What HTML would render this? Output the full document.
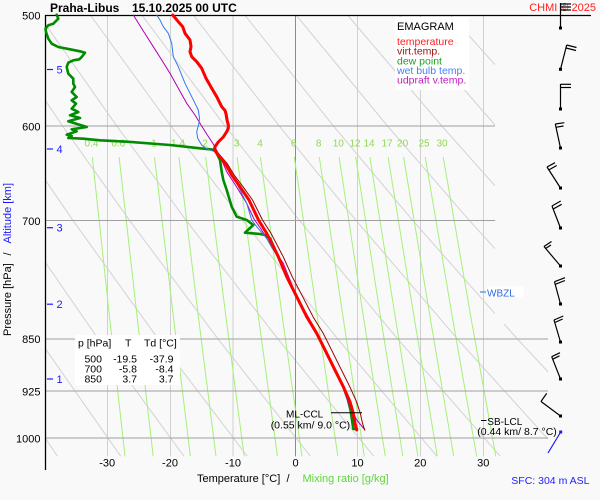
<!DOCTYPE html>
<html><head><meta charset="utf-8"><style>
html,body{margin:0;padding:0;background:#f9f9f9}
svg{display:block;font-family:"Liberation Sans",Arial,sans-serif}
</style></head><body>
<svg width="600" height="500" viewBox="0 0 600 500" xmlns="http://www.w3.org/2000/svg">
<rect x="0" y="0" width="600" height="500" fill="#f9f9f9"/>
<defs>
<clipPath id="c"><rect x="45" y="15" width="450" height="310"/><rect x="45" y="324" width="503" height="132.4"/></clipPath>
</defs>
<g clip-path="url(#c)" fill="none">
<!-- dry adiabats -->
<g stroke="#d2d2d2" stroke-width="1">
<polyline points="-21.7,338.6 57.5,456.3"/>
<polyline points="-40.4,220.2 38.2,338.6 120.8,456.3"/>
<polyline points="-45.7,126.2 16.2,220.2 98,338.6 184,456.3"/>
<polyline points="8.5,126.2 72.8,220.2 157.9,338.6 247.3,456.3"/>
<polyline points="-12.5,15 62.7,126.2 129.4,220.2 217.7,338.6 310.5,456.3"/>
<polyline points="38.9,15 116.9,126.2 186,220.2 277.6,338.6 373.8,456.3"/>
<polyline points="90.3,15 171,126.2 242.6,220.2 337.4,338.6 437,456.3"/>
<polyline points="141.8,15 225.2,126.2 299.3,220.2 397.3,338.6 500.3,456.3"/>
<polyline points="193.2,15 279.4,126.2 355.9,220.2 457.1,338.6 563.5,456.3"/>
<polyline points="244.7,15 333.6,126.2 412.5,220.2 517,338.6 626.7,456.3"/>
<polyline points="296.1,15 387.7,126.2 469.1,220.2 576.8,338.6"/>
<polyline points="347.5,15 442,126.2 525.7,220.2"/>
<polyline points="399,15 496.1,126.2"/>
<polyline points="450.4,15 550.3,126.2"/>
</g>
<!-- isotherms -->
<g stroke="#d0d0d0" stroke-width="1">
<line x1="107.5" y1="15" x2="107.5" y2="456.5"/>
<line x1="170.5" y1="15" x2="170.5" y2="456.5"/>
<line x1="233" y1="15" x2="233" y2="456.5"/>
<line x1="357.5" y1="15" x2="357.5" y2="456.5"/>
<line x1="420.5" y1="15" x2="420.5" y2="456.5"/>
<line x1="483.5" y1="15" x2="483.5" y2="456.5"/>
</g>
<line x1="295.5" y1="15" x2="295.5" y2="456.5" stroke="#8c8c8c" stroke-width="1"/>
<!-- mixing ratio lines -->
<g stroke="#a6f07a" stroke-width="1">
<polyline points="92.3,156.9 109.5,316.7 125,456.4"/>
<polyline points="119.1,156.9 137.1,316.7 153.2,456.4"/>
<polyline points="154.5,156.9 173.4,316.7 190.4,456.4"/>
<polyline points="178.9,156.9 198.4,316.7 216,456.4"/>
<polyline points="205.6,156.9 225.9,316.7 244.2,456.4"/>
<polyline points="237.1,156.9 258.4,316.7 277.5,456.4"/>
<polyline points="260.4,156.9 282.3,316.7 302,456.4"/>
<polyline points="294.3,156.9 317.3,316.7 337.9,456.4"/>
<polyline points="319.3,156.9 343,316.7 364.3,456.4"/>
<polyline points="339.1,156.9 363.4,316.7 385.3,456.4"/>
<polyline points="355.7,156.9 380.5,316.7 402.9,456.4"/>
<polyline points="369.9,156.9 395.2,316.7 417.9,456.4"/>
<polyline points="388.1,156.9 414,316.7 437.3,456.4"/>
<polyline points="403.6,156.9 430,316.7 453.7,456.4"/>
<polyline points="425.2,156.9 452.3,316.7 476.7,456.4"/>
<polyline points="443.2,156.9 470.8,316.7 495.8,456.4"/>
</g>
</g>
<!-- isobars -->
<g stroke="#a0a0a0" stroke-width="1">
<line x1="45" y1="126" x2="495" y2="126"/>
<line x1="45" y1="220.5" x2="495" y2="220.5"/>
<line x1="45" y1="339" x2="548" y2="339"/>
<line x1="45" y1="391" x2="548" y2="391"/>
<line x1="45" y1="438" x2="548" y2="438"/>
</g>
<!-- axes -->
<line x1="45" y1="15.5" x2="591" y2="15.5" stroke="#000" stroke-width="1.3"/>
<line x1="45.5" y1="15" x2="45.5" y2="470" stroke="#000" stroke-width="1.3"/>
<!-- mixing ratio labels -->
<g font-size="10" fill="#8fd853" text-anchor="middle">
<text x="91.5" y="146.5">0.4</text><text x="118.3" y="146.5">0.6</text><text x="154" y="146.5">1</text><text x="178" y="146.5">1.4</text>
<text x="205" y="146.5">2</text><text x="236.6" y="146.5">3</text><text x="260" y="146.5">4</text><text x="293.6" y="146.5">6</text>
<text x="318.6" y="146.5">8</text><text x="338.3" y="146.5">10</text><text x="355" y="146.5">12</text><text x="369" y="146.5">14</text>
<text x="387" y="146.5">17</text><text x="402.6" y="146.5">20</text><text x="424" y="146.5">25</text><text x="442" y="146.5">30</text>
</g>
<!-- profiles -->
<g fill="none" stroke-linejoin="round" stroke-linecap="round">
<polyline stroke="#008c00" stroke-width="2.6" points="56.7,14.7 58.3,18.7 53.3,23.7 48.3,25.3 45.5,28.7 46,32 48.3,38.7 51.7,43.7 58.3,47 70,49.3 80,51.3 85,52.7 81.7,57 79.3,59.3 73.3,60.3 68.3,62.7 66.7,67 68.3,73.7 73.3,78.7 73.3,83.7 75,87 71.7,92 76.7,97 71.7,100.3 76,103.7 71.7,108.7 78.3,112 70,115.3 80,118 68.3,121.3 86.7,127 71.7,129.3 76.7,131.3 66.7,134.7 71.7,136 68.3,138 83.3,138.7 100,140.3 126.7,141.7 170,145 200,148.3 210,149.3 215,150 220,160 221.7,171.7 223.3,180 226.7,190 231.7,206.7 236.7,216.7 246.7,220 253.3,225 245,232.7 260,234 265,235 270,238.3 278.3,256.7 286.7,276.7 296.7,296.7 306.7,316.7 316.7,333.3 326.7,353.3 333.3,366.7 343.3,386.7 348,400 350.5,410 352,420 353.3,429 357,429"/>
<polyline stroke="#b000b0" stroke-width="1" points="133.3,15 143.3,31 153.3,46.7 161.7,60 170,73.3 178.3,88.3 186.7,103.3 195,115 201,125 207,134.5 213.3,144 218.3,153.3 222.5,162 226.7,171.7 236,186 246.7,203.3 254,219 261,229 268,240.5 275,251 283.3,263.3 290,280 296.7,296.7 310,320 318,336 326.7,353.3 340,380 345,393 350,406.7 356.7,420 365,430"/>
<polyline stroke="#3377ee" stroke-width="1" points="156.7,15 160,20 163.3,26.7 168.3,33.3 171.7,43.3 173.3,56.7 178.3,66.7 185,83.3 190,93.3 195,103.3 198.3,110 199.5,118 199,123.3 196.7,131.7 197.7,138.3 201.7,145 206,148.5 210,150 215,151.7 220,157 228,168 236.7,183.3 246.7,203.3 251.7,220 256.7,226.7 266.7,238.3 272,248 278,256.7 286.2,276.7 296.2,296.7 306.2,316.7 316.2,333.3 326.2,353.3 332.8,366.7 342.8,386.7 349.5,401.7 352.8,413.3 354.5,423.3 356.2,430"/>
<polyline stroke="#990000" stroke-width="1" points="173.5,15 179,21.7 183.5,26.7 185.8,33.3 190.8,40 191.8,46.7 190.8,51.7 192.5,56.7 197.5,61.7 202.5,68.3 206.8,78.3 212.5,88.3 217.5,96.7 222.5,106.7 226,110.5 227,114 228,120 229.2,125 229.2,128.3 227.5,131.7 224.2,137 219.2,142 216,146.7 215.5,150 219.8,155 227,163.3 234.2,175 243,186.7 252.5,200 262.5,220 271,233.3 276.2,243.3 283.2,256.7 292.2,276.7 302.7,296.7 313,316.7 323.2,333.3 333.2,353.3 339.8,366.7 349.8,386.7 356.5,401.7 360.3,413.3 362.5,423.3 364.7,430"/>
<polyline stroke="#ff0000" stroke-width="3" points="172.7,15 178.3,21.7 182.7,26.7 185,33.3 190,40 191,46.7 190,51.7 191.7,56.7 196.7,61.7 201.7,68.3 206,78.3 211.7,88.3 216.7,96.7 221.7,106.7 225,110.5 226,114 227,120 228.3,125 228.3,128.3 226.7,131.7 223.3,137 218.3,142 215,146.7 214.3,150 218.3,155 225,163.3 231.7,175 240,186.7 249,200 258.5,220 266.7,233.3 271.7,243.3 278.3,256.7 286.7,276.7 296.7,296.7 306.7,316.7 316.7,333.3 326.7,353.3 333.3,366.7 343.3,386.7 350,401.7 353.3,413.3 355,423.3 356.7,430"/>
</g>
<!-- legend box -->
<rect x="395" y="17" width="74" height="73" fill="#ffffff"/>
<text x="397" y="30" font-size="11" fill="#000">EMAGRAM</text>
<g font-size="10.5">
<text x="397" y="45" fill="#ff2020">temperature</text>
<text x="397" y="54.7" fill="#a01010">virt.temp.</text>
<text x="397" y="64.3" fill="#20a020">dew point</text>
<text x="397" y="74" fill="#4080ff">wet bulb temp.</text>
<text x="397" y="83.7" fill="#c020c0">udpraft v.temp.</text>
</g>
<!-- table -->
<rect x="75" y="335" width="105" height="50" fill="#ffffff"/>
<g font-size="10.5" fill="#000">
<text x="78" y="346.5">p [hPa]</text><text x="125" y="346.5">T</text><text x="144" y="346.5">Td [°C]</text>
<g text-anchor="end">
<text x="102" y="362.3">500</text><text x="137" y="362.3">-19.5</text><text x="173.5" y="362.3">-37.9</text>
<text x="102" y="372.3">700</text><text x="137" y="372.3">-5.8</text><text x="173.5" y="372.3">-8.4</text>
<text x="102" y="382.3">850</text><text x="137" y="382.3">3.7</text><text x="173.5" y="382.3">3.7</text>
</g>
</g>
<!-- title -->
<text x="50" y="12" font-size="12" font-weight="bold" fill="#000">Praha-Libus</text>
<text x="132" y="12" font-size="12" font-weight="bold" fill="#000">15.10.2025 00 UTC</text>
<text x="596" y="11" font-size="11" fill="#ff2020" text-anchor="end">CHMI © 2025</text>
<!-- pressure labels -->
<g font-size="11" fill="#000" text-anchor="end">
<text x="40.5" y="19.5">500</text><text x="40.5" y="130.5">600</text><text x="40.5" y="225">700</text>
<text x="40.5" y="343">850</text><text x="40.5" y="395.3">925</text><text x="40.5" y="442.5">1000</text>
</g>
<!-- altitude labels -->
<g stroke="#1a1aff" stroke-width="1.2">
<line x1="47" y1="69.5" x2="53" y2="69.5"/><line x1="47" y1="149" x2="53" y2="149"/><line x1="47" y1="227.7" x2="53" y2="227.7"/>
<line x1="47" y1="304.2" x2="53" y2="304.2"/><line x1="47" y1="379" x2="53" y2="379"/>
</g>
<g font-size="11" fill="#1a1aff">
<text x="56.5" y="73.5">5</text><text x="56.5" y="153">4</text><text x="56.5" y="231.7">3</text><text x="56.5" y="308.2">2</text><text x="56.5" y="383">1</text>
</g>
<!-- axis titles -->
<text transform="translate(11,336) rotate(-90)" font-size="11" fill="#000">Pressure [hPa]</text>
<text transform="translate(11,255.5) rotate(-90)" font-size="11" fill="#000">/</text>
<text transform="translate(11,243.5) rotate(-90)" font-size="11" fill="#1a1aff">Altitude [km]</text>
<g font-size="11" fill="#000" text-anchor="middle">
<text x="107.2" y="466.5">-30</text><text x="170" y="466.5">-20</text><text x="233" y="466.5">-10</text>
<text x="295.5" y="466.5">0</text><text x="357.5" y="466.5">10</text><text x="420.3" y="466.5">20</text><text x="483.3" y="466.5">30</text>
</g>
<text x="197" y="482" font-size="11" fill="#000">Temperature [°C]</text>
<text x="286.5" y="482" font-size="11" fill="#000">/</text>
<text x="302.5" y="482" font-size="11" fill="#5cd83c">Mixing ratio [g/kg]</text>
<text x="589.5" y="484" font-size="10.5" fill="#2020ff" text-anchor="end">SFC: 304 m ASL</text>
<!-- annotations -->
<line x1="331" y1="412.7" x2="362" y2="412.7" stroke="#000" stroke-width="1"/>
<text x="286" y="417.5" font-size="10" fill="#000">ML-CCL</text>
<text x="270.7" y="428.5" font-size="10.5" fill="#000">(0.55 km/ 9.0 °C)</text>
<line x1="481" y1="420.5" x2="486.5" y2="420.5" stroke="#000" stroke-width="1"/>
<text x="487.3" y="425" font-size="10" fill="#000">SB-LCL</text>
<text x="477.3" y="435" font-size="10.5" fill="#000">(0.44 km/ 8.7 °C)</text>
<rect x="486.5" y="286.5" width="37" height="10.5" fill="#ffffff"/>
<line x1="480" y1="292" x2="486" y2="292" stroke="#2d6ae0" stroke-width="1"/>
<text x="487" y="296.3" font-size="10" fill="#2d6ae0">WBZL</text>
<!-- wind barbs -->
<g stroke="#000" stroke-width="1.2" fill="none">
<line x1="560.5" y1="28" x2="560.5" y2="3"/>
<line x1="560.5" y1="4" x2="571" y2="4"/><line x1="560.5" y1="7" x2="571" y2="7"/><line x1="560.5" y1="10" x2="571" y2="10"/>
<line x1="560.5" y1="69.3" x2="566.7" y2="45"/>
<line x1="566.7" y1="45" x2="576.5" y2="47.5"/><line x1="566" y1="48" x2="576" y2="50.5"/>
<line x1="560.5" y1="109" x2="560.5" y2="84"/>
<line x1="560.5" y1="84.3" x2="571" y2="84.3"/><line x1="560.5" y1="87.5" x2="571" y2="87.5"/>
<line x1="560.5" y1="148" x2="555.3" y2="124"/>
<line x1="555.3" y1="124" x2="564.3" y2="122.7"/><line x1="555.8" y1="127.3" x2="563.5" y2="126"/>
<line x1="560.5" y1="188" x2="547" y2="167"/>
<line x1="547" y1="167" x2="555" y2="162.7"/><line x1="548.7" y1="170" x2="556.7" y2="165.5"/>
<line x1="560.5" y1="228" x2="552" y2="206"/>
<line x1="552" y1="206" x2="560.7" y2="201"/><line x1="553.2" y1="209" x2="561.7" y2="204.3"/>
<line x1="560.5" y1="266" x2="544" y2="246.5"/>
<line x1="544" y1="246.5" x2="551.5" y2="241.5"/><line x1="545.5" y1="248.5" x2="551" y2="245"/>
<line x1="560.5" y1="304" x2="554.5" y2="281.7"/>
<line x1="554.5" y1="281.7" x2="565" y2="277.7"/><line x1="555.3" y1="284.3" x2="565" y2="280.5"/>
<line x1="560.5" y1="342" x2="554" y2="320"/>
<line x1="554" y1="320" x2="563.3" y2="316"/><line x1="554.8" y1="322.5" x2="562.7" y2="319"/>
<line x1="560.5" y1="379" x2="551.7" y2="356.7"/>
<line x1="551.7" y1="356.7" x2="560" y2="352.7"/><line x1="552.5" y1="359.3" x2="559.5" y2="355.8"/>
<line x1="560.5" y1="416" x2="541" y2="401.5"/>
<line x1="541" y1="401.5" x2="546.7" y2="393.3"/>
</g>
<line x1="560.7" y1="432" x2="548" y2="453" stroke="#1a1aff" stroke-width="1.2"/>
<g fill="#000">
<rect x="559" y="26.5" width="3" height="3"/><rect x="559" y="67.8" width="3" height="3"/><rect x="559" y="107.5" width="3" height="3"/>
<rect x="559" y="146.5" width="3" height="3"/><rect x="559" y="186.5" width="3" height="3"/><rect x="559" y="226.5" width="3" height="3"/>
<rect x="559" y="264.5" width="3" height="3"/><rect x="559" y="302.5" width="3" height="3"/><rect x="559" y="340.5" width="3" height="3"/>
<rect x="559" y="377.5" width="3" height="3"/><rect x="559" y="414.5" width="3" height="3"/>
</g>
<rect x="559.2" y="430.5" width="3" height="3" fill="#1a1aff"/>
</svg>
</body></html>
